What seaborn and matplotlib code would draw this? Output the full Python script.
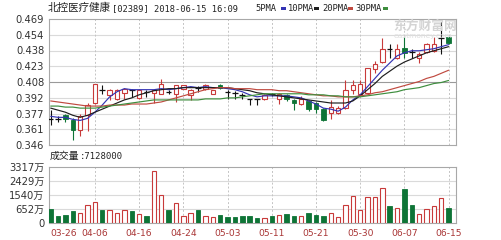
import numpy as np
import pandas as pd
import matplotlib
matplotlib.use("Agg")
import matplotlib.pyplot as plt
import seaborn as sns
from matplotlib.patches import Rectangle

# ---------------- data ----------------
tick_idx = [0, 6, 12, 18, 24, 30, 36, 42, 48, 54]
tick_labels = ['03-26', '04-06', '04-16', '04-24', '05-03', '05-11',
               '05-21', '05-30', '06-07', '06-15']
price_tick_labels = ['0.346', '0.361', '0.377', '0.392', '0.408',
                     '0.423', '0.438', '0.454', '0.469']
vol_tick_labels = ['0', '652万', '1540万', '2429万', '3317万']

opens = [0.371, 0.371, 0.375, 0.370, 0.361,
         0.375, 0.387, 0.400, 0.395, 0.391,
         0.397, 0.400, 0.392, 0.398, 0.397,
         0.396, 0.398, 0.396, 0.401, 0.395,
         0.402, 0.401, 0.396, 0.405, 0.398,
         0.397, 0.395, 0.391, 0.391, 0.391,
         0.396, 0.391, 0.395, 0.390, 0.386,
         0.389, 0.387, 0.381, 0.377, 0.377,
         0.382, 0.400, 0.396, 0.397, 0.420,
         0.427, 0.440, 0.431, 0.441, 0.437,
         0.431, 0.437, 0.438, 0.450, 0.451]
highs = [0.380, 0.374, 0.376, 0.372, 0.376,
         0.387, 0.406, 0.405, 0.401, 0.401,
         0.402, 0.401, 0.401, 0.400, 0.401,
         0.410, 0.400, 0.405, 0.405, 0.401,
         0.404, 0.406, 0.400, 0.406, 0.400,
         0.399, 0.397, 0.391, 0.391, 0.396,
         0.397, 0.397, 0.396, 0.391, 0.394,
         0.390, 0.388, 0.382, 0.390, 0.384,
         0.409, 0.409, 0.409, 0.421, 0.428,
         0.450, 0.445, 0.445, 0.451, 0.440,
         0.437, 0.446, 0.451, 0.466, 0.451]
lows = [0.366, 0.368, 0.368, 0.351, 0.355,
        0.360, 0.386, 0.396, 0.390, 0.390,
        0.391, 0.393, 0.391, 0.393, 0.387,
        0.396, 0.396, 0.388, 0.401, 0.390,
        0.398, 0.400, 0.396, 0.401, 0.391,
        0.391, 0.391, 0.385, 0.385, 0.390,
        0.394, 0.386, 0.389, 0.380, 0.385,
        0.379, 0.377, 0.369, 0.371, 0.376,
        0.381, 0.396, 0.395, 0.396, 0.416,
        0.426, 0.431, 0.430, 0.431, 0.431,
        0.426, 0.436, 0.437, 0.435, 0.445]
closes = [0.371, 0.371, 0.371, 0.361, 0.374,
          0.385, 0.406, 0.400, 0.400, 0.400,
          0.401, 0.400, 0.400, 0.398, 0.400,
          0.406, 0.398, 0.405, 0.405, 0.400,
          0.402, 0.405, 0.400, 0.402, 0.398,
          0.397, 0.395, 0.391, 0.391, 0.395,
          0.396, 0.396, 0.391, 0.387, 0.391,
          0.381, 0.381, 0.370, 0.383, 0.382,
          0.400, 0.405, 0.406, 0.421, 0.425,
          0.440, 0.440, 0.440, 0.436, 0.437,
          0.435, 0.445, 0.445, 0.450, 0.446]

ma5 = [0.374, 0.373, 0.373, 0.371, 0.370,
       0.372, 0.378, 0.385, 0.393, 0.398,
       0.401, 0.400, 0.400, 0.400, 0.400,
       0.401, 0.400, 0.401, 0.402, 0.403,
       0.402, 0.403, 0.402, 0.402, 0.401,
       0.400, 0.398, 0.395, 0.393, 0.394,
       0.394, 0.394, 0.394, 0.393, 0.392,
       0.389, 0.386, 0.382, 0.381, 0.379,
       0.383, 0.390, 0.395, 0.403, 0.411,
       0.419, 0.426, 0.433, 0.436, 0.438,
       0.438, 0.439, 0.440, 0.442, 0.444]
ma10 = [0.382, 0.380, 0.378, 0.375, 0.373,
        0.375, 0.378, 0.381, 0.384, 0.387,
        0.390, 0.392, 0.395, 0.397, 0.399,
        0.400, 0.401, 0.401, 0.402, 0.402,
        0.402, 0.402, 0.402, 0.402, 0.402,
        0.401, 0.400, 0.399, 0.397, 0.396,
        0.395, 0.394, 0.393, 0.392, 0.391,
        0.390, 0.389, 0.388, 0.387, 0.387,
        0.387, 0.389, 0.394, 0.400, 0.406,
        0.413, 0.418, 0.423, 0.427, 0.430,
        0.433, 0.436, 0.438, 0.440, 0.442]
ma20 = [0.389, 0.388, 0.387, 0.386, 0.385,
        0.384, 0.384, 0.384, 0.385, 0.385,
        0.385, 0.386, 0.386, 0.386, 0.387,
        0.388, 0.390, 0.392, 0.394, 0.396,
        0.398, 0.400, 0.401, 0.402, 0.402,
        0.401, 0.401, 0.401, 0.400, 0.400,
        0.400, 0.399, 0.399, 0.398, 0.397,
        0.396, 0.395, 0.394, 0.394, 0.393,
        0.393, 0.393, 0.394, 0.395, 0.397,
        0.398, 0.400, 0.402, 0.404, 0.406,
        0.408, 0.411, 0.413, 0.416, 0.419]
ma30 = [0.384, 0.384, 0.383, 0.383, 0.382,
        0.382, 0.382, 0.383, 0.384, 0.385,
        0.386, 0.387, 0.388, 0.389, 0.390,
        0.390, 0.390, 0.390, 0.390, 0.390,
        0.390, 0.391, 0.391, 0.391, 0.392,
        0.392, 0.393, 0.394, 0.395, 0.396,
        0.396, 0.396, 0.396, 0.396, 0.396,
        0.395, 0.395, 0.395, 0.394, 0.394,
        0.393, 0.393, 0.393, 0.394, 0.395,
        0.396, 0.397, 0.398, 0.400, 0.401,
        0.402, 0.404, 0.406, 0.407, 0.409]

volumes = [790, 415, 474, 691, 592,
           1027, 1204, 730, 770, 553,
           730, 671, 513, 415, 3080,
           1639, 730, 1145, 415, 572,
           730, 415, 355, 474, 316,
           355, 395, 415, 296, 296,
           375, 474, 513, 395, 415,
           572, 474, 415, 572, 316,
           1047, 1599, 750, 1540, 1520,
           2053, 987, 889, 2014, 1047,
           513, 829, 987, 1441, 889]
vol_up = [0, 0, 0, 0, 1,
          1, 1, 0, 1, 1,
          1, 0, 1, 0, 1,
          1, 0, 1, 1, 1,
          0, 1, 1, 0, 0,
          0, 0, 0, 0, 1,
          0, 1, 0, 0, 1,
          0, 0, 0, 1, 1,
          1, 1, 1, 1, 1,
          1, 0, 1, 0, 0,
          1, 1, 1, 1, 0]

title_name = '北控医疗健康'
title_rest = '[02389] 2018-06-15 16:09'
legend_names = ['5PMA', '10PMA', '20PMA', '30PMA']
vol_title = '成交量'
vol_value = ':7128000'

# ---------------- style ----------------
sns.set_style("white")
plt.rcParams['font.family'] = ['DejaVu Sans', 'Noto Sans CJK SC']

RED = '#c83a3a'
GREEN = '#0e7436'
MA_COLORS = ['#3434b4', '#1e1e1e', '#c04a40', '#3e8e3e']
GRID = '#dadada'
SPINE = '#a8a8a8'
TXT = '#333333'

W, H = 502, 240
fig = plt.figure(figsize=(W / 100, H / 100), dpi=100)
fig.patch.set_facecolor('white')


def box(x0, y0, x1, y1):
    return [x0 / W, 1 - y1 / H, (x1 - x0) / W, (y1 - y0) / H]


ax = fig.add_axes(box(49, 19, 456, 145))
axv = fig.add_axes(box(49, 166.5, 456, 222.7))

n = len(closes)
df = pd.DataFrame(dict(x=np.arange(n), open=opens, high=highs, low=lows,
                       close=closes, ma5=ma5, ma10=ma10, ma20=ma20,
                       ma30=ma30, vol=volumes, up=vol_up))

XMIN, XMAX = -0.23, 55.0
BW = 0.6

# ---------------- price panel ----------------
pticks = np.linspace(0.346, 0.469, 9)
for k, t in enumerate(pticks[1:-1], start=1):
    ax.axhline(t, color='#9a9a9a' if k == 4 else GRID, lw=0.8, zorder=0)
for t in tick_idx[1:]:
    ax.axvline(t, color='#c4c4c4', lw=0.7, ls=(0, (2, 2)), zorder=0)

up = df[df.close > df.open]
dn = df[df.close < df.open]
eq = df[df.close == df.open]

ax.vlines(up.x, up.low, up.open, color=RED, lw=0.8, zorder=2)
ax.vlines(up.x, up.close, up.high, color=RED, lw=0.8, zorder=2)
ax.bar(up.x, up.close - up.open, bottom=up.open, width=BW,
       facecolor='white', edgecolor=RED, linewidth=0.8, zorder=3)

ax.vlines(dn.x, dn.low, dn.high, color=GREEN, lw=0.8, zorder=2)
ax.bar(dn.x, dn.open - dn.close, bottom=dn.close, width=BW,
       facecolor=GREEN, edgecolor=GREEN, linewidth=0.6, zorder=3)

ax.vlines(eq.x, eq.low, eq.high, color='#111111', lw=0.8, zorder=3)
ax.hlines(eq.close, eq.x - 0.38, eq.x + 0.38, color='#111111', lw=0.9, zorder=3)

for col, c in zip(['ma5', 'ma10', 'ma20', 'ma30'], MA_COLORS):
    sns.lineplot(data=df, x='x', y=col, ax=ax, color=c, linewidth=0.85,
                 legend=False, zorder=4)

ax.set_xlim(XMIN, XMAX)
ax.set_ylim(0.346, 0.469)
ax.set_yticks(pticks)
ax.set_yticklabels(price_tick_labels)
ax.set_xticks([])
ax.set_xlabel('')
ax.set_ylabel('')
ax.tick_params(axis='y', length=0, pad=3.5, labelsize=7.2, colors=TXT)

# ---------------- volume panel ----------------
vticks = np.linspace(0, 3317, 5)
for t in vticks[1:-1]:
    axv.axhline(t, color=GRID, lw=0.8, zorder=0)
for t in tick_idx[1:]:
    axv.axvline(t, color='#c4c4c4', lw=0.7, ls=(0, (2, 2)), zorder=0)

sns.barplot(data=df, x='x', y='vol', native_scale=True, orient='x',
            width=BW, errorbar=None, color='white', ax=axv, zorder=3)
for p in axv.patches:
    i = int(round(p.get_x() + p.get_width() / 2))
    if 0 <= i < n:
        if vol_up[i]:
            p.set_facecolor('white')
            p.set_edgecolor(RED)
            p.set_linewidth(0.8)
        else:
            p.set_facecolor(GREEN)
            p.set_edgecolor(GREEN)
            p.set_linewidth(0.6)

axv.set_xlim(XMIN, XMAX)
axv.set_ylim(0, 3317)
axv.set_yticks(vticks)
axv.set_yticklabels(vol_tick_labels)
axv.set_xticks(tick_idx)
axv.set_xticklabels(tick_labels)
axv.set_xlabel('')
axv.set_ylabel('')
axv.tick_params(axis='y', length=0, pad=3.5, labelsize=7.2, colors=TXT)
axv.tick_params(axis='x', length=0, pad=4.5, labelsize=6.6, colors='#a83434')
axv.get_xticklabels()[0].set_ha('left')

for a in (ax, axv):
    a.grid(False)
    for s in a.spines.values():
        s.set_visible(True)
        s.set_color(SPINE)
        s.set_linewidth(0.8)


# ---------------- texts ----------------
def ftext(x, y, s, **kw):
    return fig.text(x / W, 1 - y / H, s, va='center', ha='left', **kw)


ftext(48, 8, title_name, fontsize=7.6, color='#222222',
      family=['Noto Sans CJK SC', 'DejaVu Sans'])
ftext(112, 8.3, title_rest, fontsize=6.3, color='#222222',
      family=['DejaVu Sans Mono'])

leg_x = [255, 288, 322, 355]
dash_x = [281.5, 314.5, 348.0, 383.0]
for name, lx, dx, c in zip(legend_names, leg_x, dash_x, MA_COLORS):
    ftext(lx, 8.3, name, fontsize=6.3, color='#222222', family=['DejaVu Sans Mono'])
    fig.add_artist(Rectangle((dx / W, 1 - 9.8 / H), 4.6 / W, 2.6 / H,
                             transform=fig.transFigure, facecolor=c,
                             edgecolor='none', zorder=10))

ftext(50, 156, vol_title, fontsize=7.1, color='#222222',
      family=['Noto Sans CJK SC', 'DejaVu Sans'])
ftext(79.5, 156.3, vol_value, fontsize=6.4, color='#222222',
      family=['DejaVu Sans Mono'])

# watermark
ftext(393, 26, '东方财富网', fontsize=9.2, color='#d4d4d4', fontweight='bold',
      family=['Noto Sans CJK SC', 'DejaVu Sans'])
ftext(394, 36, 'eastmoney.com', fontsize=5.4, color='#dedede',
      family=['DejaVu Sans'])

fig.savefig('out.png', dpi=100, facecolor='white')
